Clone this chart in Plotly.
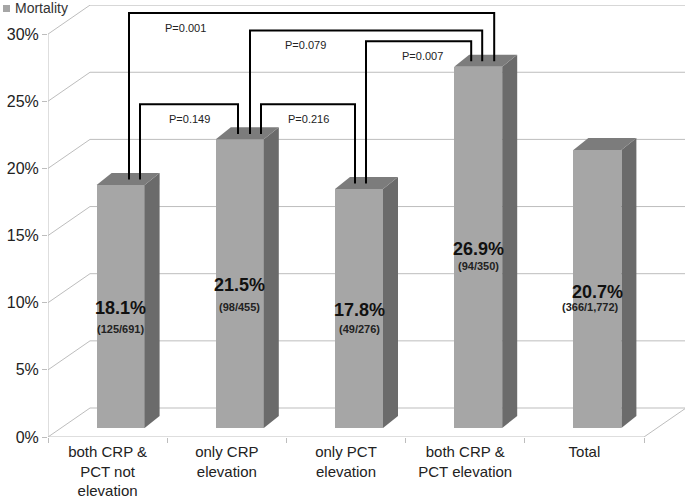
import plotly.graph_objects as go

# ---------------- data ----------------
categories = ["both CRP &<br>PCT not<br>elevation", "only CRP<br>elevation",
              "only PCT<br>elevation", "both CRP &<br>PCT elevation", "Total"]
mortality = [18.1, 21.5, 17.8, 26.9, 20.7]
counts = ["(125/691)", "(98/455)", "(49/276)", "(94/350)", "(366/1,772)"]
y_ticks = [0, 5, 10, 15, 20, 25, 30]
p_labels = ["P=0.001", "P=0.149", "P=0.079", "P=0.216", "P=0.007"]
p_pairs = [(0, 3), (0, 1), (1, 3), (1, 2), (2, 3)]

# ---------------- geometry / style (pixels -> axis units) ----------------
W, H = 685, 501
ML, MT, MB, MR = 48, 5, 64, 0
PW, PH = W - ML - MR, H - MT - MB
CAT_PX = 119.2          # px per category
PPU = 13.43             # px per percent
X_MAX = -0.5 + PW / CAT_PX
Y_MAX = PH / PPU
DEPTH_X, DEPTH_Y = 42 / CAT_PX, 29 / PPU      # back wall offset
BAR_X, BAR_Y = 13 / CAT_PX, 9 / PPU           # bar plane offset
SIDE_X, SIDE_Y = 15 / CAT_PX, 12 / PPU        # bar depth
BAR_W = 48 / CAT_PX

FRONT = "#a6a6a6"
SIDE = "#6b6b6b"
TOP = "#7c7c7c"
GRID = "#bdbdbd"
FONT = "Liberation Sans, Arial, sans-serif"

# annotation placement (percent units on bar plane)
label_y = [8.94, 10.65, 8.79, 13.33, 10.13]
count_y = [7.37, 9.01, 7.37, 12.06, 9.01]
bracket_level = [30.9, 24.1, 29.6, 24.1, 28.8]
bracket_off = [(8.4, 16), (19.4, -1.8), (10.2, 4), (21.2, -4), (7, -7)]   # px from bar center
p_label_x = [185, 189, 305, 308, 422]      # px
p_label_dy = 15 / PPU
LEG = 0.4

fig = go.Figure()

# invisible trace carrying the category axis of the front plane
fig.add_trace(go.Scatter(x=categories, y=mortality, mode="markers",
                         marker=dict(opacity=0), hoverinfo="skip", showlegend=False,
                         xaxis="x", yaxis="y"))

# bars on the (slightly shifted) bar plane
xs = list(range(len(categories)))
fig.add_trace(go.Bar(x=xs, y=mortality, width=BAR_W, marker=dict(color=FRONT, line=dict(width=0)),
                     name="Mortality", showlegend=False, hoverinfo="skip",
                     xaxis="x2", yaxis="y2"))

shapes = []
# back wall gridlines + left diagonals
for v in y_ticks:
    shapes.append(dict(type="line", xref="x", yref="y", x0=-0.5, y0=v,
                       x1=-0.5 + DEPTH_X, y1=v + DEPTH_Y,
                       line=dict(color=GRID, width=1), layer="below"))
    shapes.append(dict(type="line", xref="x", yref="y", x0=-0.5 + DEPTH_X, y0=v + DEPTH_Y,
                       x1=X_MAX + 0.1, y1=v + DEPTH_Y,
                       line=dict(color=GRID, width=1), layer="below"))
# floor front edge and right diagonal
n = len(categories)
shapes.append(dict(type="line", xref="x", yref="y", x0=-0.5, y0=0, x1=n - 0.5, y1=0,
                   line=dict(color=GRID, width=1), layer="below"))
shapes.append(dict(type="line", xref="x", yref="y", x0=n - 0.5, y0=0,
                   x1=n - 0.5 + DEPTH_X, y1=DEPTH_Y,
                   line=dict(color=GRID, width=1), layer="below"))
# y axis line
shapes.append(dict(type="line", xref="x", yref="y", x0=-0.5, y0=0, x1=-0.5, y1=max(y_ticks),
                   line=dict(color=GRID, width=1), layer="below"))

# 3D faces of bars
for i, v in enumerate(mortality):
    l, r = i - BAR_W / 2, i + BAR_W / 2
    side = f"M {r},0 L {r + SIDE_X},{SIDE_Y} L {r + SIDE_X},{v + SIDE_Y} L {r},{v} Z"
    top = f"M {l},{v} L {l + SIDE_X},{v + SIDE_Y} L {r + SIDE_X},{v + SIDE_Y} L {r},{v} Z"
    shapes.append(dict(type="path", xref="x2", yref="y2", path=side,
                       fillcolor=SIDE, line=dict(width=0)))
    shapes.append(dict(type="path", xref="x2", yref="y2", path=top,
                       fillcolor=TOP, line=dict(width=0)))

annotations = []
# significance brackets
for k, (a, b) in enumerate(p_pairs):
    xa = a + bracket_off[k][0] / CAT_PX
    xb = b + bracket_off[k][1] / CAT_PX
    lv = bracket_level[k]
    path = (f"M {xa},{mortality[a] + LEG} L {xa},{lv} L {xb},{lv} "
            f"L {xb},{mortality[b] + LEG}")
    shapes.append(dict(type="path", xref="x2", yref="y2", path=path,
                       line=dict(color="black", width=2)))
    annotations.append(dict(xref="x2", yref="y2",
                            x=-0.5 - BAR_X + (p_label_x[k] - ML) / CAT_PX,
                            y=lv - p_label_dy, text=p_labels[k], showarrow=False,
                            font=dict(family=FONT, size=11, color="#222")))

# value labels
for i, v in enumerate(mortality):
    annotations.append(dict(xref="x2", yref="y2", x=i, y=label_y[i], text=f"<b>{v}%</b>",
                            showarrow=False, font=dict(family=FONT, size=18, color="#111")))
    annotations.append(dict(xref="x2", yref="y2", x=i - (0.06 if i == 4 else 0), y=count_y[i],
                            text=f"<b>{counts[i]}</b>", showarrow=False,
                            font=dict(family=FONT, size=11, color="#222")))

# legend
shapes.append(dict(type="rect", xref="paper", yref="paper",
                   x0=(3 - ML) / PW, x1=(10 - ML) / PW,
                   y0=(H - MB - 12) / PH, y1=(H - MB - 5) / PH,
                   fillcolor=FRONT, line=dict(width=0)))
annotations.append(dict(xref="paper", yref="paper", x=(13 - ML) / PW, y=(H - MB - 8) / PH,
                        xanchor="left", yanchor="middle", text="Mortality", showarrow=False,
                        font=dict(family=FONT, size=14, color="#333")))

fig.update_layout(
    width=W, height=H,
    margin=dict(l=ML, r=MR, t=MT, b=MB, autoexpand=False),
    paper_bgcolor="white", plot_bgcolor="rgba(0,0,0,0)",
    font=dict(family=FONT, color="#222"),
    showlegend=False,
    bargap=0,
    xaxis=dict(type="category", categoryorder="array", categoryarray=categories,
               range=[-0.5, X_MAX], tickson="boundaries", ticks="outside", ticklen=5,
               tickcolor=GRID, showgrid=False, zeroline=False, showline=False,
               automargin=False, ticklabelstandoff=4,
               tickfont=dict(family=FONT, size=15, color="#222"), fixedrange=True),
    yaxis=dict(range=[0, Y_MAX], tickvals=y_ticks, ticktext=[f"{t}%" for t in y_ticks],
               ticks="outside", ticklen=5, tickcolor=GRID, showgrid=False, zeroline=False,
               showline=False, automargin=False,
               tickfont=dict(family=FONT, size=16, color="#222"),
               fixedrange=True),
    xaxis2=dict(overlaying="x", range=[-0.5 - BAR_X, X_MAX - BAR_X], visible=False,
                fixedrange=True),
    yaxis2=dict(overlaying="y", range=[-BAR_Y, Y_MAX - BAR_Y], visible=False,
                fixedrange=True),
    shapes=shapes,
    annotations=annotations,
)

fig.write_html("out.html", config={"displayModeBar": False},
               post_script="document.body.style.margin='0';")
